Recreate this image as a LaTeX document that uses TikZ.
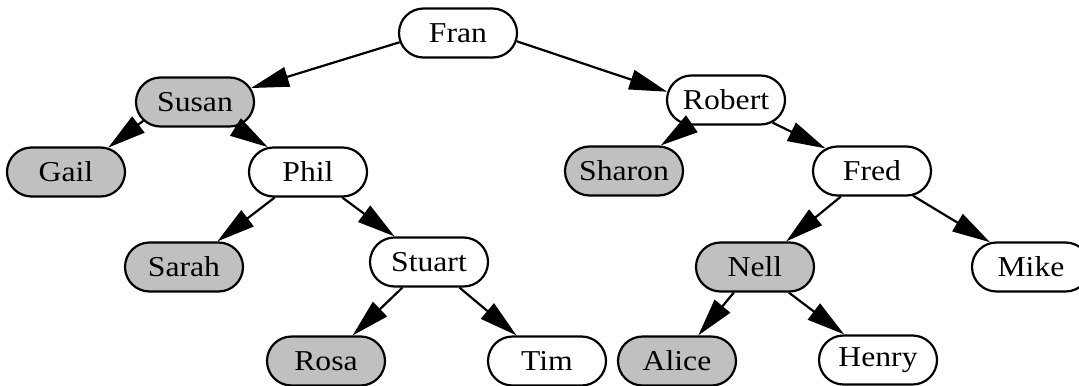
\documentclass[tikz,border=0pt]{standalone}
\usepackage{fontspec}
\setmainfont{Liberation Serif}
\usepackage{graphicx}
\usetikzlibrary{shapes.misc,arrows.meta}
\definecolor{nodegray}{RGB}{192,192,192}
\newcommand{\sx}[1]{\scalebox{1.1}[1]{#1}}
\begin{document}
\begin{tikzpicture}[x=0.5pt,y=-0.5pt,
  nd/.style={rounded rectangle, draw, line width=1.1pt, minimum width=59pt,
    minimum height=24.5pt, inner sep=0pt, font=\fontsize{14.4}{15}\selectfont},
  gr/.style={nd, fill=nodegray},
  wh/.style={nd, fill=white},
  edge/.style={line width=1.1pt, -{Triangle[length=19pt,width=10pt]}}]
\useasboundingbox (0,0) rectangle (1079,385);
\node[wh] (fran)   at (458,33)  {\sx{Fran}};
\node[gr] (susan)  at (195,102) {\sx{Susan}};
\node[gr] (gail)   at (66,172)  {\sx{Gail}};
\node[wh] (phil)   at (308,172) {\sx{Phil}};
\node[wh] (robert) at (726,100) {\sx{Robert}};
\node[gr] (sharon) at (624,171) {\sx{Sharon}};
\node[wh] (fred)   at (872,171) {\sx{Fred}};
\node[gr] (sarah)  at (184,267) {\sx{Sarah}};
\node[wh] (stuart) at (429,262) {\sx{Stuart}};
\node[gr] (nell)   at (755,267) {\sx{Nell}};
\node[wh] (mike)   at (1031,267) {\sx{Mike}};
\node[gr] (rosa)   at (326,361) {\sx{Rosa}};
\node[wh] (tim)    at (547,361) {\sx{Tim}};
\node[gr] (alice)  at (677,361) {\sx{Alice}};
\node[wh] (henry)  at (878,360) {\sx{Henry}};
\draw[edge] (fran.189) -- (susan.14);
\draw[edge] (fran.-8) -- (robert.172);
\draw[edge] (susan.200) -- (gail.30);
\draw[edge] (susan) -- (phil);
\draw[edge] (phil) -- (sarah);
\draw[edge] (phil) -- (stuart);
\draw[edge] (stuart) -- (rosa);
\draw[edge] (stuart) -- (tim);
\draw[edge] (robert) -- (sharon);
\draw[edge] (robert) -- (fred);
\draw[edge] (fred) -- (nell);
\draw[edge] (fred) -- (mike);
\draw[edge] (nell) -- (alice);
\draw[edge] (nell) -- (henry);
\end{tikzpicture}
\end{document}
